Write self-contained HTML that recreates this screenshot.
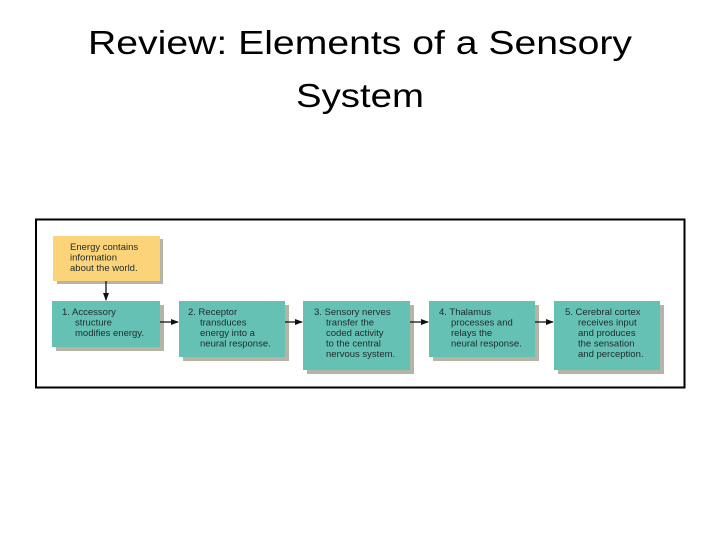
<!DOCTYPE html>
<html><head><meta charset="utf-8"><style>
html,body{margin:0;padding:0;background:#fff;width:720px;height:540px;overflow:hidden}
svg{display:block}
.t{font-family:"Liberation Sans",sans-serif;font-size:33px;fill:#000}
.s{font-family:"Liberation Sans",sans-serif;font-size:9.5px;fill:#1e2a2a}
</style></head><body>
<svg width="720" height="540" viewBox="0 0 720 540" xmlns="http://www.w3.org/2000/svg">
<defs><marker id="a" markerWidth="8" markerHeight="8" refX="7" refY="4" orient="auto" markerUnits="userSpaceOnUse"><path d="M0,1 L8,4 L0,7 z" fill="#111"/></marker></defs>
<text class="t" x="360" y="54" text-anchor="middle" textLength="544" lengthAdjust="spacingAndGlyphs">Review: Elements of a Sensory</text>
<text class="t" x="360" y="107" text-anchor="middle" textLength="128" lengthAdjust="spacingAndGlyphs">System</text>
<rect x="36" y="219.5" width="648.5" height="168" fill="#fff" stroke="#000" stroke-width="2"/>
<g fill="#9e9a8a" opacity="0.75">
<rect x="57" y="239" width="106" height="45"/>
<rect x="56" y="305" width="108" height="46"/>
<rect x="183" y="305" width="106" height="56"/>
<rect x="307" y="305" width="107" height="69"/>
<rect x="433" y="305" width="106" height="56"/>
<rect x="558" y="305" width="106" height="69"/>
</g>
<rect x="53" y="236" width="107" height="45" fill="#fbd47a"/>
<g fill="#66c1b5">
<rect x="52" y="301" width="108" height="46"/>
<rect x="179" y="301" width="106" height="56"/>
<rect x="303" y="301" width="107" height="69"/>
<rect x="429" y="301" width="106" height="56"/>
<rect x="554" y="301" width="106" height="69"/>
</g>
<g stroke="#111" stroke-width="1.3" marker-end="url(#a)">
<line x1="106" y1="281" x2="106" y2="300"/>
<line x1="160" y1="322" x2="178" y2="322"/>
<line x1="285" y1="322" x2="302" y2="322"/>
<line x1="410" y1="322" x2="428" y2="322"/>
<line x1="535" y1="322" x2="553" y2="322"/>
</g>
<text class="s" x="70" y="250">Energy contains</text>
<text class="s" x="70" y="260.5">information</text>
<text class="s" x="70" y="271">about the world.</text>
<text class="s" x="62" y="315">1. Accessory</text>
<text class="s" x="75" y="325.5">structure</text>
<text class="s" x="75" y="336">modifies energy.</text>
<text class="s" x="188" y="315">2. Receptor</text>
<text class="s" x="200" y="325.5">transduces</text>
<text class="s" x="200" y="336">energy into a</text>
<text class="s" x="200" y="346.5">neural response.</text>
<text class="s" x="314" y="315">3. Sensory nerves</text>
<text class="s" x="326" y="325.5">transfer the</text>
<text class="s" x="326" y="336">coded activity</text>
<text class="s" x="326" y="346.5">to the central</text>
<text class="s" x="326" y="357">nervous system.</text>
<text class="s" x="439" y="315">4. Thalamus</text>
<text class="s" x="451" y="325.5">processes and</text>
<text class="s" x="451" y="336">relays the</text>
<text class="s" x="451" y="346.5">neural response.</text>
<text class="s" x="565" y="315">5. Cerebral cortex</text>
<text class="s" x="578" y="325.5">receives input</text>
<text class="s" x="578" y="336">and produces</text>
<text class="s" x="578" y="346.5">the sensation</text>
<text class="s" x="578" y="357">and perception.</text>
</svg>
</body></html>
